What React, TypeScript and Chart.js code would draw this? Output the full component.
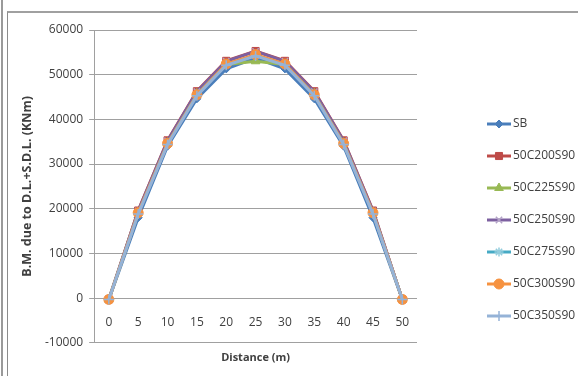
import React, { useEffect, useRef } from "react";
import { Chart, registerables } from "chart.js";
import { drawPoint } from "chart.js/helpers";

Chart.register(...registerables);

const distances = ["0", "5", "10", "15", "20", "25", "30", "35", "40", "45", "50"];

const seriesNames = ["SB", "50C200S90", "50C225S90", "50C250S90", "50C275S90", "50C300S90", "50C350S90"];

const sb = [-300, 18000, 34000, 44600, 51300, 53700, 51300, 44600, 34000, 18000, -300];
const c200 = [-300, 19600, 35300, 46300, 53100, 55300, 53100, 46300, 35300, 19600, -300];
const c225 = [-300, 19200, 34800, 45800, 52300, 53000, 52300, 45800, 34800, 19200, -300];
const c250 = [-300, 19500, 35200, 46200, 53000, 55200, 53000, 46200, 35200, 19500, -300];
const c275 = [-300, 19000, 34600, 45500, 52300, 54300, 52300, 45500, 34600, 19000, -300];
const c300 = [-300, 19100, 34600, 45500, 52400, 54500, 52400, 45500, 34600, 19100, -300];
const c350 = [-300, 18800, 34400, 45300, 52100, 54200, 52100, 45300, 34400, 18800, -300];

const seriesValues = [sb, c200, c225, c250, c275, c300, c350];

const yTicks = [-10000, 0, 10000, 20000, 30000, 40000, 50000, 60000];

const lineColors = ["#4a7ebb", "#be4b48", "#98b954", "#7d60a0", "#46aac5", "#f69240", "#95b3d7"];
const markerFill = ["#4a7ebb", "#be4b48", "#98b954", "#b3a2c7", "#93cddd", "#f69240", "#95b3d7"];
const markerStyles = ["rectRot", "rect", "triangle", "crossRot", "star", "circle", "cross"];
const markerRadius = [4, 5, 5, 4.5, 4.5, 5, 5];

const textColor = "#404040";
const gridColor = "#a0a0a0";
const font = "'Open Sans', sans-serif";

const legendPlugin = {
  id: "excelLegend",
  afterDraw(chart: any) {
    const ctx = chart.ctx;
    const area = chart.chartArea;
    const x0 = area.right + 70;
    const y0 = 111;
    const gap = 32;
    ctx.save();
    chart.data.datasets.forEach((ds: any, i: number) => {
      const y = y0 + i * gap;
      ctx.strokeStyle = ds.borderColor;
      ctx.lineWidth = 3;
      ctx.beginPath();
      ctx.moveTo(x0, y);
      ctx.lineTo(x0 + 24, y);
      ctx.stroke();
      ctx.fillStyle = ds.pointBackgroundColor;
      ctx.strokeStyle = ds.pointBorderColor;
      ctx.lineWidth = ds.pointBorderWidth;
      drawPoint(ctx, { pointStyle: ds.pointStyle, radius: ds.pointRadius, rotation: 0, borderWidth: ds.pointBorderWidth }, x0 + 12, y);
      ctx.fillStyle = textColor;
      ctx.font = `12px ${font}`;
      ctx.textBaseline = "middle";
      ctx.textAlign = "left";
      ctx.fillText(ds.label, x0 + 26, y);
    });
    ctx.restore();
  },
};

export default function App() {
  const ref = useRef<HTMLCanvasElement | null>(null);

  useEffect(() => {
    if (!ref.current) return;
    const datasets = seriesNames.map((name, i) => ({
      label: name,
      data: seriesValues[i],
      borderColor: lineColors[i],
      backgroundColor: lineColors[i],
      borderWidth: 3,
      pointStyle: markerStyles[i],
      pointRadius: markerRadius[i],
      pointBackgroundColor: markerFill[i],
      pointBorderColor: i === 3 || i === 4 || i === 6 ? markerFill[i] : lineColors[i],
      pointBorderWidth: i === 3 || i === 4 || i === 6 ? 1.5 : 1,
      tension: 0,
      fill: false,
      order: seriesNames.length - i,
    }));
    const chart = new Chart(ref.current, {
      type: "line",
      data: { labels: distances, datasets },
      options: {
        animation: false,
        responsive: false,
        devicePixelRatio: 1,
        layout: { padding: { left: 8, top: 17, right: 161, bottom: 7 } },
        plugins: { legend: { display: false }, tooltip: { enabled: false } },
        scales: {
          x: {
            type: "category",
            offset: true,
            grid: { display: false },
            border: { display: false },
            ticks: { display: false },
            title: {
              display: true,
              text: "Distance (m)",
              color: textColor,
              font: { family: font, size: 11, weight: "bold" },
              padding: { top: 0, bottom: 6 },
            },
          },
          x2: {
            type: "category",
            offset: true,
            position: { y: 0 },
            grid: { display: false, drawTicks: false },
            border: { display: false },
            ticks: { color: textColor, font: { family: font, size: 12 }, padding: 17, maxRotation: 0 },
          },
          y: {
            min: -10000,
            max: 60000,
            afterBuildTicks: (scale: any) => {
              scale.ticks = yTicks.map((v) => ({ value: v }));
            },
            grid: { color: gridColor, tickLength: 5, lineWidth: 1 },
            border: { color: gridColor },
            ticks: {
              color: textColor,
              font: { family: font, size: 12 },
              padding: 6,
              callback: (v: any) => String(v),
            },
            title: {
              display: true,
              text: "B.M. due to D.L.+S.D.L. (KNm)",
              color: textColor,
              font: { family: font, size: 12.5, weight: "bold" },
              padding: { top: 4, bottom: 4 },
            },
          },
        },
      } as any,
      plugins: [legendPlugin],
    });
    return () => chart.destroy();
  }, []);

  return (
    <div style={{ position: "absolute", left: 0, top: 0, width: 578, height: 376, overflow: "hidden", background: "#fff" }}>
      <div style={{ position: "absolute", left: 1, top: 0, width: 2, height: 376, background: "#9a9a9a" }} />
      <div
        style={{
          position: "absolute",
          left: 7,
          top: 11,
          width: 580,
          height: 380,
          borderLeft: "1px solid #8c8c8c",
          borderTop: "2px solid #a0a0a0",
          boxSizing: "border-box",
        }}
      />
      <canvas ref={ref} width={570} height={364} style={{ position: "absolute", left: 8, top: 13, width: 570, height: 364 }} />
    </div>
  );
}
